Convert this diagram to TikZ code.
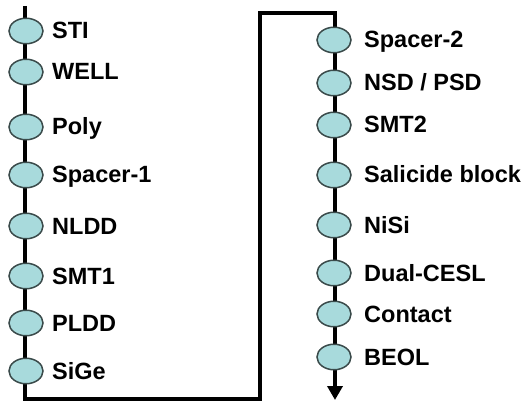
\documentclass[tikz,border=0pt]{standalone}
\usepackage{fontspec}
\setmainfont{Liberation Sans}
\usetikzlibrary{arrows.meta,shapes.geometric}
\definecolor{bead}{HTML}{A8DADC}
\definecolor{beadline}{HTML}{3A4A4A}
\begin{document}
\begin{tikzpicture}[x=1pt,y=-1pt,
  bead/.style={ellipse,draw=beadline,line width=1.5pt,fill=bead,minimum width=34pt,minimum height=25.5pt,inner sep=0pt,outer sep=0pt},
  lbl/.style={anchor=base west,font=\bfseries\fontsize{23.5}{25}\selectfont,inner sep=0pt},
  flow/.style={line width=3.8pt,black}]
\useasboundingbox (0,0) rectangle (529,403);
\coordinate (start) at (25,6);
\coordinate (bl) at (25,399);
\coordinate (br) at (260,399);
\coordinate (tl) at (260,13);
\coordinate (tr) at (335,13);
\coordinate (pre) at (335,383);
\coordinate (end) at (335,400);
\draw[flow] (start) -- (bl) -- (br) -- (tl) -- (tr) -- (pre);
\draw[flow,-{Triangle[length=14pt,width=15pt]}] ([yshift=2pt]pre) -- (end);
% left column
\foreach \n/\y/\t in {a1/31/STI,a2/72/WELL,a3/127/Poly,a4/175/Spacer-1,a5/226/NLDD,a6/276/SMT1,a7/323/PLDD,a8/371/SiGe}{
  \node[bead] (\n) at (26,\y) {};
  \node[lbl] (\n t) at (52,\y+8) {\t};
}
% right column
\foreach \n/\y/\t in {b1/40/Spacer-2,b2/83/{NSD / PSD},b3/125/SMT2,b4/175/Salicide block,b5/225/NiSi,b6/273/Dual-CESL,b7/314/Contact,b8/357/BEOL}{
  \node[bead] (\n) at (334,\y) {};
  \node[lbl] (\n t) at (364,\y+8) {\t};
}
\end{tikzpicture}
\end{document}
